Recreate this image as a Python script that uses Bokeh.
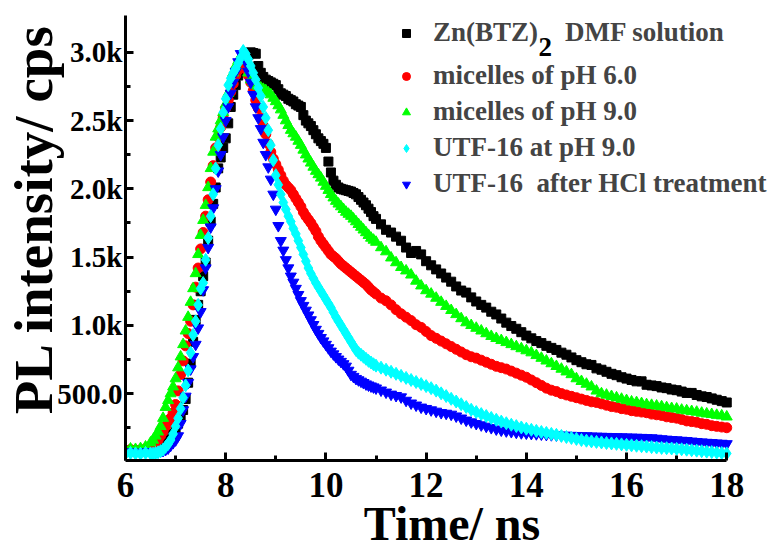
from bokeh.plotting import figure
from bokeh.models import (ColumnDataSource, Range1d, FixedTicker, Legend, LegendItem, Label)
from bokeh.embed import file_html
from bokeh.resources import INLINE

# sampling grid (ns)
time_ns = ([6.0, 6.1, 6.2, 6.3, 6.4]
           + [round(6.5 + 0.05 * i, 2) for i in range(91)]
           + [round(11.1 + 0.1 * i, 1) for i in range(70)])

zn_btz_dmf = [
    80, 85, 78, 82, 80,
    82, 80, 85, 90, 95, 110, 130, 150, 180, 205,
    230, 280, 330, 380, 460, 580, 720, 880, 1040, 1150,
    1250, 1360, 1460, 1620, 1760, 1890, 2010, 2150, 2230, 2300,
    2370, 2480, 2600, 2690, 2760, 2830, 2880, 2920, 2960, 2980,
    3000, 2995, 2990, 2900, 2850, 2820, 2800, 2790, 2780, 2770,
    2760, 2730, 2700, 2690, 2680, 2660, 2650, 2640, 2620, 2610,
    2600, 2540, 2500, 2480, 2460, 2430, 2400, 2370, 2350, 2330,
    2300, 2200, 2120, 2060, 2030, 2010, 2000, 1995, 1990, 1985,
    1980, 1970, 1960, 1940, 1920, 1900, 1880, 1855, 1830, 1800,
    1780,
    1740, 1700, 1680, 1650, 1620, 1570, 1530, 1545, 1520, 1470,
    1440, 1410, 1380, 1350, 1320, 1285, 1255, 1240, 1205, 1175,
    1150, 1130, 1100, 1080, 1050, 1020, 995, 975, 950, 925,
    905, 885, 870, 850, 835, 820, 800, 785, 765, 745,
    730, 715, 710, 685, 675, 660, 645, 635, 620, 610,
    600, 590, 590, 565, 560, 555, 545, 540, 530, 525,
    515, 505, 505, 490, 480, 475, 465, 455, 445, 435,
]

micelles_ph6 = [
    85, 90, 85, 88, 95,
    110, 125, 140, 160, 190, 220, 260, 290, 320, 360,
    420, 520, 640, 740, 850, 940, 1030, 1150, 1280, 1420,
    1560, 1680, 1800, 1920, 2050, 2170, 2300, 2380, 2450, 2520,
    2590, 2650, 2710, 2770, 2830, 2870, 2900, 2910, 2880, 2830,
    2780, 2720, 2650, 2590, 2520, 2460, 2400, 2330, 2270, 2220,
    2180, 2140, 2100, 2060, 2030, 2010, 1990, 1960, 1930, 1900,
    1870, 1830, 1800, 1775, 1750, 1720, 1690, 1650, 1620, 1595,
    1570, 1545, 1520, 1505, 1490, 1470, 1450, 1435, 1420, 1405,
    1390, 1375, 1360, 1345, 1330, 1315, 1300, 1280, 1260, 1245,
    1230,
    1200, 1180, 1150, 1115, 1085, 1060, 1035, 1005, 985, 955,
    925, 905, 885, 865, 845, 825, 805, 785, 770, 760,
    745, 730, 715, 700, 690, 680, 665, 650, 635, 620,
    600, 580, 560, 540, 525, 515, 500, 490, 480, 470,
    460, 450, 440, 435, 425, 415, 405, 400, 390, 385,
    375, 370, 365, 360, 350, 345, 340, 330, 325, 320,
    310, 300, 295, 290, 280, 275, 265, 260, 255, 250,
]

micelles_ph9 = [
    90, 95, 92, 98, 110,
    140, 160, 190, 220, 260, 320, 400, 450, 500, 550,
    610, 690, 770, 860, 960, 1060, 1170, 1270, 1380, 1520,
    1660, 1770, 1880, 2010, 2150, 2270, 2380, 2440, 2500, 2560,
    2620, 2700, 2790, 2850, 2900, 2940, 2970, 3000, 2950, 2850,
    2800, 2780, 2760, 2750, 2740, 2730, 2720, 2705, 2690, 2665,
    2640, 2610, 2580, 2540, 2500, 2465, 2430, 2405, 2380, 2350,
    2320, 2285, 2250, 2220, 2190, 2160, 2130, 2105, 2080, 2050,
    2020, 1990, 1960, 1935, 1910, 1890, 1870, 1850, 1830, 1815,
    1800, 1780, 1760, 1740, 1720, 1700, 1680, 1660, 1640, 1625,
    1610,
    1570, 1540, 1495, 1460, 1425, 1400, 1370, 1325, 1290, 1255,
    1230, 1200, 1170, 1140, 1110, 1080, 1050, 1020, 1000, 980,
    960, 940, 920, 905, 890, 875, 860, 845, 830, 815,
    800, 780, 760, 740, 720, 700, 680, 660, 640, 610,
    590, 570, 550, 520, 500, 490, 480, 470, 460, 450,
    440, 435, 428, 420, 415, 410, 405, 398, 392, 388,
    380, 375, 370, 365, 358, 352, 348, 342, 338, 330,
]

utf16_ph9 = [
    60, 65, 62, 60, 65,
    62, 60, 65, 70, 78, 90, 110, 130, 160, 205,
    260, 320, 390, 470, 560, 670, 800, 930, 1030, 1150,
    1270, 1310, 1480, 1640, 1800, 1960, 2150, 2320, 2440, 2560,
    2660, 2760, 2810, 2850, 2880, 2920, 2960, 3010, 2990, 2950,
    2900, 2850, 2800, 2740, 2680, 2600, 2520, 2430, 2320, 2210,
    2100, 2030, 1960, 1900, 1850, 1800, 1760, 1710, 1670, 1620,
    1570, 1520, 1470, 1420, 1380, 1345, 1310, 1280, 1250, 1220,
    1190, 1160, 1130, 1095, 1060, 1030, 1000, 970, 940, 910,
    880, 850, 820, 800, 785, 770, 755, 740, 728, 715,
    705,
    690, 675, 660, 645, 630, 615, 600, 585, 570, 555,
    540, 522, 502, 482, 462, 442, 422, 402, 382, 365,
    350, 336, 322, 308, 295, 283, 272, 262, 252, 243,
    235, 227, 219, 212, 205, 198, 190, 182, 175, 168,
    160, 155, 150, 146, 142, 138, 135, 132, 128, 125,
    121, 118, 115, 112, 108, 105, 102, 100, 98, 95,
    92, 89, 85, 82, 78, 75, 72, 68, 65, 62,
]

utf16_hcl = [
    70, 72, 68, 70, 72,
    70, 72, 70, 74, 78, 82, 90, 100, 120, 140,
    160, 190, 280, 380, 480, 580, 680, 770, 860, 980,
    1100, 1260, 1420, 1570, 1720, 1860, 2000, 2130, 2250, 2380,
    2500, 2600, 2700, 2780, 2860, 2930, 2990, 2970, 2930, 2860,
    2780, 2690, 2600, 2520, 2440, 2340, 2250, 2160, 2070, 1960,
    1850, 1730, 1620, 1550, 1480, 1420, 1360, 1315, 1270, 1225,
    1180, 1145, 1110, 1075, 1040, 1005, 970, 940, 910, 885,
    860, 835, 810, 790, 770, 752, 735, 718, 700, 670,
    640, 625, 610, 600, 590, 580, 570, 562, 555, 548,
    540,
    525, 510, 495, 485, 475, 450, 430, 415, 400, 390,
    380, 370, 360, 355, 348, 335, 320, 305, 292, 280,
    270, 260, 250, 240, 232, 226, 221, 216, 212, 210,
    207, 205, 203, 200, 198, 196, 195, 194, 193, 192,
    190, 190, 188, 187, 186, 185, 184, 183, 182, 181,
    180, 179, 178, 176, 175, 172, 168, 165, 162, 160,
    157, 155, 151, 148, 145, 142, 140, 137, 135, 132,
]

x_ticks = [6, 8, 10, 12, 14, 16, 18]
x_minor = [7, 9, 11, 13, 15, 17]
y_ticks = [500, 1000, 1500, 2000, 2500, 3000]
y_minor = [250, 750, 1250, 1750, 2250, 2750]
y_tick_labels = ["500.0", "1.0k", "1.5k", "2.0k", "2.5k", "3.0k"]

labels = ["Zn(BTZ)\u2002\u2002DMF solution", "micelles of pH 6.0", "micelles of pH 9.0",
          "UTF-16 at pH 9.0", "UTF-16\u00a0\u00a0after HCl treatment"]

for s in (zn_btz_dmf, micelles_ph6, micelles_ph9, utf16_ph9, utf16_hcl):
    assert len(s) == len(time_ns), (len(s), len(time_ns))

src = ColumnDataSource(dict(t=time_ns, k=zn_btz_dmf, r=micelles_ph6, g=micelles_ph9,
                            c=utf16_ph9, b=utf16_hcl))

FONT = "Liberation Serif"

# frame spans 6..18 over 604 px; it is widened to the right edge so the legend is not clipped
p = figure(width=778, height=552, x_range=Range1d(6, 19.033), y_range=Range1d(10, 3270),
           output_backend="svg", toolbar_location=None,
           min_border_left=122, min_border_right=0, min_border_top=15, min_border_bottom=92)
p.outline_line_color = None
p.grid.visible = False

r_k = p.scatter("t", "k", source=src, marker="square", size=9, color="#000000")
r_r = p.scatter("t", "r", source=src, marker="circle", size=10, color="#ff0000")
r_g = p.scatter("t", "g", source=src, marker="triangle", size=11, color="#00ff00")
r_b = p.scatter("t", "b", source=src, marker="inverted_triangle", size=11, color="#0000ff")
r_c = p.scatter("t", "c", source=src, marker="diamond", size=13, color="#00ffff")

for ax in (p.xaxis[0], p.yaxis[0]):
    ax.axis_line_width = 3
    ax.major_tick_line_width = 3
    ax.minor_tick_line_width = 3
    ax.major_tick_in = 8
    ax.major_tick_out = 0
    ax.minor_tick_in = 5
    ax.minor_tick_out = 0
    ax.major_label_text_font = FONT
    ax.major_label_text_font_style = "bold"
    ax.axis_label_text_font = FONT
    ax.axis_label_text_font_style = "bold"
    ax.major_label_text_color = "black"
    ax.axis_label_text_color = "black"

xa = p.xaxis[0]
xa.bounds = (6, 18)
xa.ticker = FixedTicker(ticks=x_ticks, minor_ticks=x_minor)
xa.major_label_text_font_size = "35px"
xa.major_label_standoff = 12
xa.axis_label = "Time/ ns"
xa.axis_label_text_font_size = "48px"
xa.axis_label_standoff = -3

ya = p.yaxis[0]
ya.ticker = FixedTicker(ticks=y_ticks, minor_ticks=y_minor)
ya.major_label_overrides = {t: l for t, l in zip(y_ticks, y_tick_labels)}
ya.major_label_text_font_size = "29px"
ya.major_label_standoff = 3
ya.axis_label = "\u2002\u2009PL intensity/ cps"
ya.axis_label_text_font_size = "55px"
ya.axis_label_standoff = -10


def style_legend(leg):
    leg.border_line_color = None
    leg.background_fill_alpha = 0
    leg.label_text_font = FONT
    leg.label_text_font_style = "bold"
    leg.label_text_font_size = "27px"
    leg.glyph_width = 20
    leg.glyph_height = 30
    leg.label_height = 30
    leg.label_standoff = 17
    leg.spacing = 5
    leg.padding = 0
    leg.margin = 0


leg1 = Legend(items=[LegendItem(label=labels[0], renderers=[r_k])], location=(271, 412))
leg2 = Legend(items=[LegendItem(label=labels[1], renderers=[r_r]),
                     LegendItem(label=labels[2], renderers=[r_g]),
                     LegendItem(label=labels[3], renderers=[r_c]),
                     LegendItem(label=labels[4], renderers=[r_b])], location=(271, 261))
style_legend(leg1)
style_legend(leg2)
p.add_layout(leg1)
p.add_layout(leg2)

sub2 = Label(x=413, y=414, x_units="screen", y_units="screen", text="2",
             text_font=FONT, text_font_style="bold", text_font_size="27px",
             text_baseline="alphabetic", text_color="black")
p.add_layout(sub2)

open("out.html", "w").write(file_html(p, INLINE))
